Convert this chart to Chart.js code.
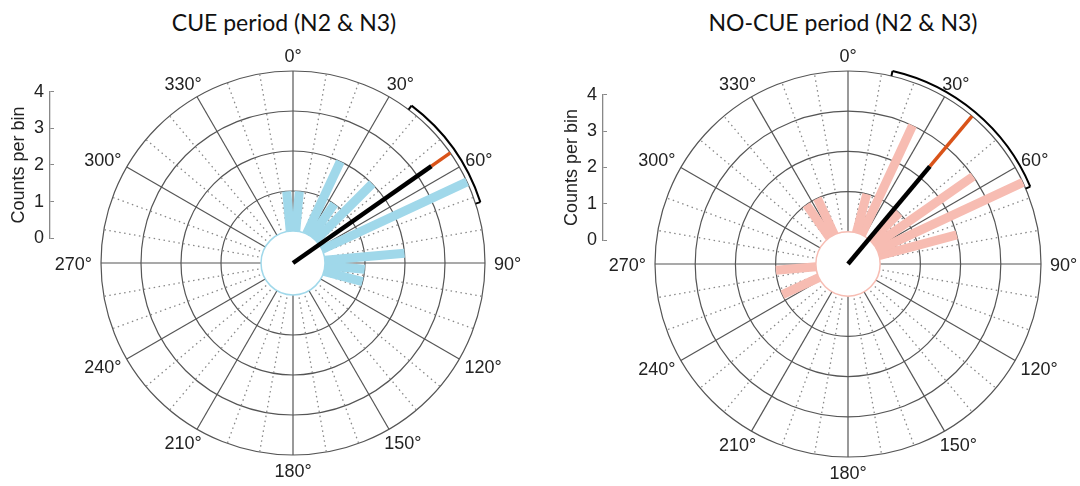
<!DOCTYPE html>
<html>
<head>
<meta charset="utf-8">
<script src="https://cdn.jsdelivr.net/npm/chart.js@4.4.1/dist/chart.umd.min.js"></script>
<style>
  body { margin: 0; background: #fff; }
  #wrap { position: relative; width: 1080px; height: 486px; overflow: hidden; }
  canvas { position: absolute; }
  .title { position: absolute; top: 11px; width: 540px; text-align: center; font: 23px Lato, "Open Sans", sans-serif; line-height: 1; color: #111; }
</style>
</head>
<body>
<div id="wrap">
  <div class="title" style="left:14px">CUE period (N2 &amp; N3)</div>
  <div class="title" style="left:573px">NO-CUE period (N2 &amp; N3)</div>
  <canvas id="cueChart" width="540" height="486" style="left:0;top:0"></canvas>
  <canvas id="noCueChart" width="540" height="486" style="left:540px;top:0"></canvas>
  <canvas id="cueAxis" width="70" height="180" style="left:0;top:75px"></canvas>
  <canvas id="noCueAxis" width="70" height="179" style="left:553px;top:78px"></canvas>
</div>
<script>
// bin centres (deg, clockwise from 0 at top) and counts per bin
const cueAngles = [355, 5, 25, 35, 45, 65, 85, 95, 105];
const cueCounts = [1, 1, 2, 1, 2, 4, 2, 1, 1];
const noCueAngles = [15, 25, 45, 55, 65, 75, 245, 265, 325, 335];
const noCueCounts = [1, 3, 1, 3, 4, 2, 1, 1, 1, 1];

// mean direction, resultant length (fraction of outer ring), confidence arc
const cueMean = 55, cueResultant = 0.88, cueCI = [37, 72];
const noCueMean = 40, noCueResultant = 0.66, noCueCI = [13, 67];

const angleTicks = [0, 30, 60, 90, 120, 150, 180, 210, 240, 270, 300, 330];
const countTicks = [0, 1, 2, 3, 4];
const holeSize = 0.8;           // empty centre, in count units
const rMax = 4;
const outer = holeSize + rMax;

const FAMILY = '"Liberation Sans", Arial, sans-serif';

const toXY = (deg, u) => {
    const t = deg * Math.PI / 180;
    return { x: u * Math.sin(t), y: u * Math.cos(t) };
};

const geo = (chart) => {
    const sx = chart.scales.x, sy = chart.scales.y;
    const cx = sx.getPixelForValue(0), cy = sy.getPixelForValue(0);
    const k = sx.getPixelForValue(1) - cx;
    const pt = (deg, u) => { const p = toXY(deg, u); return { x: sx.getPixelForValue(p.x), y: sy.getPixelForValue(p.y) }; };
    return { cx, cy, k, pt };
};

const polarGrid = {
    id: 'polarGrid',
    // rings, spokes and the empty centre go under the bars
    beforeDatasetsDraw(chart, args, o) {
        const ctx = chart.ctx;
        const g = geo(chart);
        ctx.save();
        ctx.lineWidth = 1.2;
        ctx.strokeStyle = '#555';
        countTicks.slice(1).forEach(c => {
            ctx.beginPath();
            ctx.arc(g.cx, g.cy, (holeSize + c) * g.k, 0, Math.PI * 2);
            ctx.stroke();
        });
        for (let a = 0; a < 360; a += 10) {
            const p = g.pt(a, outer);
            ctx.beginPath();
            ctx.moveTo(g.cx, g.cy);
            ctx.lineTo(p.x, p.y);
            if (a % 30 === 0) {
                ctx.setLineDash([]);
                ctx.lineWidth = 1.2;
                ctx.strokeStyle = '#555';
            } else {
                ctx.setLineDash([1.5, 3.5]);
                ctx.lineWidth = 1.3;
                ctx.strokeStyle = '#888';
            }
            ctx.stroke();
        }
        ctx.setLineDash([]);
        ctx.beginPath();
        ctx.arc(g.cx, g.cy, holeSize * g.k, 0, Math.PI * 2);
        ctx.fillStyle = '#fff';
        ctx.fill();
        ctx.strokeStyle = o.color;
        ctx.lineWidth = 1.5;
        ctx.stroke();
        ctx.restore();
    },
    afterDraw(chart, args, o) {
        const ctx = chart.ctx;
        const g = geo(chart);
        const R = outer * g.k;
        ctx.save();
        // confidence arc
        const rArc = R + 5;
        ctx.strokeStyle = '#000';
        ctx.lineWidth = 2;
        ctx.beginPath();
        ctx.arc(g.cx, g.cy, rArc, (o.ci[0] - 90) * Math.PI / 180, (o.ci[1] - 90) * Math.PI / 180);
        ctx.stroke();
        o.ci.forEach(a => {
            const t = (a - 90) * Math.PI / 180;
            ctx.beginPath();
            ctx.moveTo(g.cx + rArc * Math.cos(t), g.cy + rArc * Math.sin(t));
            ctx.lineTo(g.cx + (rArc - 5) * Math.cos(t), g.cy + (rArc - 5) * Math.sin(t));
            ctx.stroke();
        });
        // angle labels
        ctx.font = '18px ' + FAMILY;
        ctx.fillStyle = '#222';
        ctx.textAlign = 'center';
        ctx.textBaseline = 'alphabetic';
        const capH = 13;
        angleTicks.forEach(a => {
            const txt = a + '\u00B0';
            const w = ctx.measureText(txt).width;
            const t = a * Math.PI / 180;
            const dx = Math.sin(t), dy = -Math.cos(t);
            const x = g.cx + dx * (R + 9) + dx * w / 2;
            const y = g.cy + dy * (R + 9) + dy * capH / 2;
            ctx.fillText(txt, x, y + capH / 2);
        });
        ctx.restore();
    }
};

const createRose = (id, angles, counts, color, mean, resultant, ci, padding) => {
    const tip = resultant * outer;
    // index 0 is drawn last, so the mean vector comes first and sits on top
    const datasets = [
        { data: [toXY(mean, 0), toXY(mean, tip)], borderColor: '#000', borderWidth: 4.5 },
        { data: [toXY(mean, tip), toXY(mean, outer)], borderColor: '#d95319', borderWidth: 3.5 }
    ];
    angles.forEach((a, i) => datasets.push({
        data: [toXY(a, holeSize), toXY(a, holeSize + counts[i])],
        borderColor: color,
        borderWidth: 9
    }));
    datasets.forEach(d => Object.assign(d, { showLine: true, borderCapStyle: 'butt', pointRadius: 0, clip: false }));

    new Chart(document.getElementById(id), {
        type: 'scatter',
        data: { datasets },
        options: {
            responsive: false,
            animation: false,
            events: [],
            layout: { padding },
            plugins: {
                legend: { display: false },
                tooltip: { enabled: false },
                polarGrid: { color, ci }
            },
            scales: {
                x: { type: 'linear', min: -outer, max: outer, display: false },
                y: { type: 'linear', min: -outer, max: outer, display: false }
            }
        },
        plugins: [polarGrid]
    });
};

const createCountAxis = (id) => {
    new Chart(document.getElementById(id), {
        type: 'scatter',
        data: { datasets: [] },
        options: {
            responsive: false,
            animation: false,
            events: [],
            layout: { padding: { top: 10, bottom: 15, left: 0, right: 16 } },
            plugins: { legend: { display: false }, tooltip: { enabled: false } },
            scales: {
                x: { display: false, min: 0, max: 1 },
                y: {
                    min: countTicks[0],
                    max: countTicks[countTicks.length - 1],
                    afterFit: s => { s.width = 50; },
                    ticks: { stepSize: 1, padding: 6, color: '#222', font: { size: 18, family: FAMILY } },
                    grid: { drawTicks: false, color: '#888', lineWidth: 1 },
                    border: { color: '#888', width: 1.3 },
                    title: {
                        display: true, text: 'Counts per bin', color: '#222',
                        font: { size: 18, family: FAMILY },
                        padding: { top: 8, bottom: 0 }
                    }
                }
            }
        }
    });
};

createRose('cueChart', cueAngles, cueCounts, '#a0d8ea', cueMean, cueResultant, cueCI, { left: 101, right: 55, top: 71, bottom: 31 });
createRose('noCueChart', noCueAngles, noCueCounts, '#f7bcb2', noCueMean, noCueResultant, noCueCI, { left: 115, right: 39, top: 71, bottom: 29 });
createCountAxis('cueAxis');
createCountAxis('noCueAxis');
</script>
</body>
</html>
